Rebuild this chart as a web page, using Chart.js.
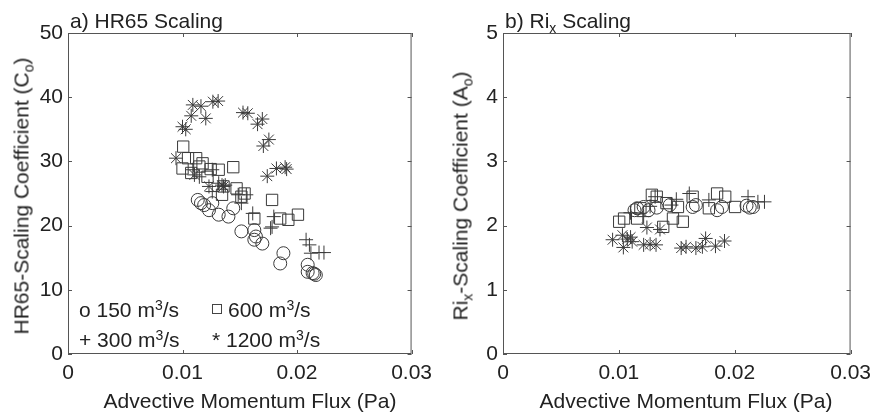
<!DOCTYPE html>
<html lang="en">
<head>
    <meta charset="UTF-8">
    <title>HR65 and Rix Scaling</title>
    <script src="https://cdn.jsdelivr.net/npm/chart.js"></script>
    <style>
        body { margin: 0; background: #fff; font-family: "Liberation Sans", Arial, sans-serif; color: #222; }
        .wrap { position: relative; width: 878px; height: 415px; overflow: hidden; }
        canvas { position: absolute; top: 0; }
        .lbl { position: absolute; font-size: 21px; line-height: 21px; white-space: nowrap; }
        .ytitle { transform: translate(-50%, -50%) rotate(-90deg); }
        .xtitle { transform: translateX(-50%); }
        sub { font-size: 14px; vertical-align: -5px; line-height: 0; }
        sup { font-size: 14px; vertical-align: 7px; line-height: 0; }
        .sq { display: inline-block; width: 8px; height: 8px; border: 1px solid #444; margin-right: 6px; vertical-align: 3px; }
    </style>
</head>
<body>
    <div class="wrap">
        <canvas id="hrChart" width="439" height="415" style="left:0"></canvas>
        <canvas id="rixChart" width="439" height="415" style="left:439px"></canvas>

        <!-- panel titles -->
        <div class="lbl" style="left:70px; top:10px;">a) HR65 Scaling</div>
        <div class="lbl" style="left:505px; top:10px;">b) Ri<sub>x</sub> Scaling</div>

        <!-- axis titles -->
        <div class="lbl ytitle" style="left:21px; top:196px;">HR65-Scaling Coefficient (C<sub>o</sub>)</div>
        <div class="lbl ytitle" style="left:460px; top:196px;">Ri<sub>x</sub>-Scaling Coefficient (A<sub>o</sub>)</div>
        <div class="lbl xtitle" style="left:250px; top:390px;">Advective Momentum Flux (Pa)</div>
        <div class="lbl xtitle" style="left:686px; top:390px;">Advective Momentum Flux (Pa)</div>

        <!-- legend (panel a) -->
        <div class="lbl" style="left:79px; top:299px;">o 150 m<sup>3</sup>/s</div>
        <div class="lbl" style="left:212px; top:299px;"><span class="sq"></span>600 m<sup>3</sup>/s</div>
        <div class="lbl" style="left:79px; top:329px;">+ 300 m<sup>3</sup>/s</div>
        <div class="lbl" style="left:212px; top:329px;">* 1200 m<sup>3</sup>/s</div>
    </div>

    <script>
        // Tick values
        const xTicks = [0, 0.01, 0.02, 0.03];
        const hrTicks = [0, 10, 20, 30, 40, 50];
        const rixTicks = [0, 1, 2, 3, 4, 5];

        // a) HR65 scaling coefficient vs advective momentum flux
        const hr150x = [0.01133, 0.01161, 0.01189, 0.01231, 0.01260, 0.01316, 0.01401, 0.01443, 0.01514, 0.01627, 0.01641, 0.01697, 0.01627, 0.01881, 0.01853, 0.02093, 0.02093, 0.02136, 0.02164, 0.02150];
        const hr150y = [24.0, 23.5, 23.2, 22.4, 23.5, 21.7, 21.4, 22.7, 19.1, 19.3, 18.3, 17.2, 17.8, 15.7, 14.1, 13.9, 12.8, 12.6, 12.3, 12.5];
        const hr300x = [0.01090, 0.01147, 0.01260, 0.01316, 0.01373, 0.01486, 0.01557, 0.01514, 0.01613, 0.01797, 0.01769, 0.01782, 0.02079, 0.02108, 0.02121, 0.02192, 0.02235, 0.01260];
        const hr300y = [28.7, 27.6, 28.7, 26.6, 26.3, 24.8, 24.8, 23.5, 21.9, 21.4, 19.6, 19.8, 17.8, 17.0, 15.7, 15.8, 15.8, 25.3];
        const hr600x = [0.01006, 0.01000, 0.01048, 0.01119, 0.01076, 0.01175, 0.01246, 0.01316, 0.01218, 0.01443, 0.01358, 0.01345, 0.01472, 0.01542, 0.01514, 0.01782, 0.01627, 0.01853, 0.01924, 0.02008, 0.01147];
        const hr600y = [32.3, 28.9, 30.5, 30.5, 28.2, 29.7, 28.8, 28.7, 27.6, 29.1, 26.1, 24.8, 25.8, 25.0, 24.5, 24.0, 21.1, 21.1, 20.9, 21.7, 29.2];
        const hr1200x = [0.01090, 0.01161, 0.01265, 0.01311, 0.01076, 0.01203, 0.01000, 0.01028, 0.01528, 0.01570, 0.01697, 0.01655, 0.01754, 0.01706, 0.00943, 0.01104, 0.01231, 0.01345, 0.01358, 0.01740, 0.01820, 0.01909, 0.01896];
        const hr1200y = [38.8, 38.6, 39.3, 39.4, 37.1, 36.7, 35.4, 35.0, 37.6, 37.5, 36.6, 35.8, 33.4, 32.4, 30.5, 27.9, 26.1, 26.3, 26.1, 27.7, 28.9, 28.8, 29.1];

        // b) Rix scaling coefficient vs advective momentum flux
        const rix150x = [0.01158, 0.01214, 0.01256, 0.01327, 0.01439, 0.01637, 0.01665, 0.01848, 0.01890, 0.02102, 0.02130, 0.02158, 0.01135];
        const rix150y = [2.27, 2.29, 2.24, 2.28, 2.32, 2.29, 2.32, 2.24, 2.29, 2.31, 2.28, 2.29, 2.24];
        const rix300x = [0.01313, 0.01454, 0.01496, 0.01608, 0.01777, 0.02115, 0.02200, 0.02257, 0.01214, 0.01100, 0.01270];
        const rix300y = [2.45, 2.32, 2.41, 2.50, 2.40, 2.45, 2.37, 2.37, 2.14, 2.20, 2.30];
        const rix600x = [0.01003, 0.01045, 0.01158, 0.01285, 0.01327, 0.01411, 0.01467, 0.01552, 0.01510, 0.01637, 0.01848, 0.01918, 0.02003, 0.01777, 0.01186, 0.01383];
        const rix600y = [2.06, 2.11, 2.11, 2.48, 2.45, 2.35, 2.11, 2.06, 2.29, 2.45, 2.50, 2.45, 2.29, 2.27, 2.27, 1.98];
        const rix1200x = [0.00946, 0.01039, 0.01073, 0.01115, 0.01214, 0.01270, 0.01321, 0.01242, 0.01355, 0.01538, 0.01580, 0.01665, 0.01721, 0.01749, 0.01834, 0.01912, 0.01031, 0.01101];
        const rix1200y = [1.78, 1.66, 1.79, 1.75, 1.70, 1.71, 1.70, 1.97, 1.94, 1.65, 1.67, 1.65, 1.67, 1.80, 1.68, 1.76, 1.85, 1.82];

        const pts = (xs, ys) => xs.map((x, i) => ({ x: x, y: ys[i] }));
        const ink = '#3a3a3a';

        function series(xs, ys, style, r) {
            return {
                data: pts(xs, ys),
                pointStyle: style,
                pointRadius: r,
                pointHoverRadius: r,
                borderColor: ink,
                backgroundColor: 'rgba(0,0,0,0)',
                pointBorderWidth: 1,
                showLine: false
            };
        }

        // box around the plot plus inward tick marks on all four sides
        const boxTicks = {
            id: 'boxTicks',
            afterDraw(chart) {
                const ctx = chart.ctx, a = chart.chartArea;
                const xs = chart.scales.x, ys = chart.scales.y;
                ctx.save();
                ctx.strokeStyle = '#555';
                ctx.lineWidth = 1;
                ctx.strokeRect(a.left + 0.5, a.top + 0.5, a.right - a.left - 1, a.bottom - a.top - 1);
                ctx.beginPath();
                xs.ticks.forEach(t => {
                    const px = Math.round(xs.getPixelForValue(t.value)) + 0.5;
                    ctx.moveTo(px, a.bottom); ctx.lineTo(px, a.bottom - 4);
                    ctx.moveTo(px, a.top); ctx.lineTo(px, a.top + 4);
                });
                ys.ticks.forEach(t => {
                    const py = Math.round(ys.getPixelForValue(t.value)) + 0.5;
                    ctx.moveTo(a.left, py); ctx.lineTo(a.left + 4, py);
                    ctx.moveTo(a.right, py); ctx.lineTo(a.right - 4, py);
                });
                ctx.stroke();
                ctx.restore();
            }
        };

        function makeChart(id, datasets, yMax, yTicks, yWidth, rightPad) {
            return new Chart(document.getElementById(id), {
                type: 'scatter',
                data: { datasets: datasets },
                options: {
                    responsive: false,
                    animation: false,
                    layout: { padding: { top: 33, right: rightPad, left: 0, bottom: 0 } },
                    plugins: { legend: { display: false }, tooltip: { enabled: false } },
                    scales: {
                        x: {
                            type: 'linear', min: 0, max: 0.03,
                            afterBuildTicks: s => { s.ticks = xTicks.map(v => ({ value: v })); },
                            afterFit: s => { s.height = 61; },
                            grid: { display: false, drawTicks: false },
                            border: { display: false },
                            ticks: {
                                padding: 7, color: '#222', maxRotation: 0,
                                font: { family: 'Liberation Sans', size: 21 },
                                callback: v => v === 0 ? '0' : v.toFixed(2)
                            }
                        },
                        y: {
                            type: 'linear', min: 0, max: yMax,
                            afterBuildTicks: s => { s.ticks = yTicks.map(v => ({ value: v })); },
                            afterFit: s => { s.width = yWidth; },
                            grid: { display: false, drawTicks: false },
                            border: { display: false },
                            ticks: {
                                padding: 5, color: '#222',
                                font: { family: 'Liberation Sans', size: 21 }
                            }
                        }
                    }
                },
                plugins: [boxTicks]
            });
        }

        makeChart('hrChart', [
            series(hr150x, hr150y, 'circle', 6.5),
            series(hr300x, hr300y, 'cross', 7),
            series(hr600x, hr600y, 'rect', 8),
            series(hr1200x, hr1200y, 'star', 7)
        ], 50, hrTicks, 68, 17);

        makeChart('rixChart', [
            series(rix150x, rix150y, 'circle', 6.5),
            series(rix300x, rix300y, 'cross', 7),
            series(rix600x, rix600y, 'rect', 8),
            series(rix1200x, rix1200y, 'star', 7)
        ], 5, rixTicks, 64, 20);
    </script>
</body>
</html>
